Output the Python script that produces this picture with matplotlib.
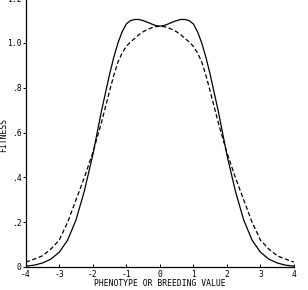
import matplotlib
matplotlib.use('Agg')
import matplotlib.pyplot as plt

# x positions (phenotype or breeding value)
x = [-4.0, -3.75, -3.5, -3.25, -3.0, -2.75, -2.5, -2.25, -2.0, -1.75,
     -1.5, -1.375, -1.25, -1.125, -1.0, -0.875, -0.75, -0.625, -0.5, -0.375, -0.25, -0.125,
     0.0,
     0.125, 0.25, 0.375, 0.5, 0.625, 0.75, 0.875, 1.0, 1.125, 1.25, 1.375, 1.5,
     1.75, 2.0, 2.25, 2.5, 2.75, 3.0, 3.25, 3.5, 3.75, 4.0]

# solid curve (phenotype fitness)
solid = [0.004, 0.008, 0.018, 0.035, 0.066, 0.12, 0.21, 0.34, 0.50, 0.69,
         0.86, 0.935, 1.00, 1.05, 1.085, 1.10, 1.105, 1.105, 1.10, 1.093, 1.085, 1.078,
         1.075,
         1.078, 1.085, 1.093, 1.10, 1.105, 1.105, 1.10, 1.085, 1.05, 1.00, 0.935, 0.86,
         0.69, 0.50, 0.34, 0.21, 0.12, 0.066, 0.035, 0.018, 0.008, 0.004]

# dashed curve (breeding value fitness)
dashed = [0.022, 0.035, 0.05, 0.08, 0.12, 0.20, 0.30, 0.40, 0.51, 0.64,
          0.785, 0.855, 0.915, 0.955, 0.985, 1.005, 1.02, 1.037, 1.05, 1.06, 1.068, 1.073,
          1.075,
          1.073, 1.068, 1.06, 1.05, 1.037, 1.02, 1.005, 0.985, 0.955, 0.915, 0.855, 0.785,
          0.64, 0.51, 0.40, 0.30, 0.20, 0.12, 0.08, 0.05, 0.035, 0.022]

xticks = [-4, -3, -2, -1, 0, 1, 2, 3, 4]
yticks = [0, 0.2, 0.4, 0.6, 0.8, 1.0, 1.2]
ytick_labels = ['0', '.2', '.4', '.6', '.8', '1.0', '1.2']

fig = plt.figure(figsize=(3.08, 2.90), dpi=100)
ax = fig.add_axes([25.7/308, 23/290, 268.3/308, 268.8/290])

ax.plot(x, solid, color='black', lw=0.9)  # phenotype curve
ax.plot(x, dashed, color='black', lw=0.9, dashes=(3.5, 2))  # breeding value curve

ax.set_xlim(-4, 4)
ax.set_ylim(0, 1.2)
ax.spines['top'].set_visible(False)
ax.spines['right'].set_visible(False)
ax.spines['left'].set_linewidth(0.9)
ax.spines['bottom'].set_linewidth(0.9)

font = dict(family='DejaVu Sans Mono', size=5.8)
ax.set_xticks(xticks)
ax.set_xticklabels([str(t) for t in xticks], **font)
ax.set_yticks(yticks)
ax.set_yticklabels(ytick_labels, **font)
ax.tick_params(axis='x', direction='in', length=2.5, width=0.7, pad=2)
ax.tick_params(axis='y', direction='out', length=2, width=0.7, pad=1)

ax.set_xlabel('PHENOTYPE OR BREEDING VALUE', labelpad=0, **font)
ax.set_ylabel('FITNESS', **font)
ax.yaxis.set_label_coords(-0.064, 0.49)

fig.savefig('out.png', dpi=100)
